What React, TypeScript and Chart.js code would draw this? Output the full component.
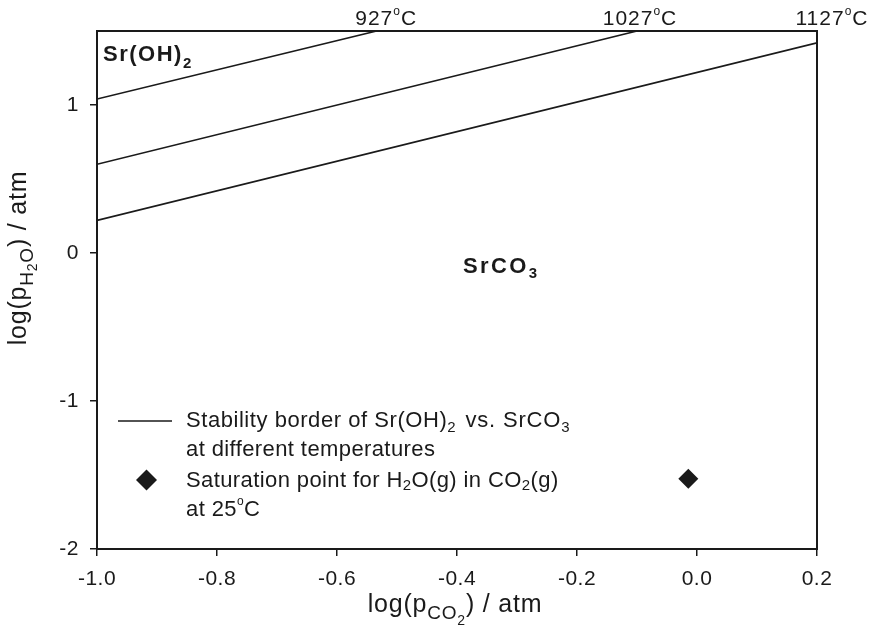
import React, { useEffect, useRef } from 'react';
import { Chart, registerables } from 'chart.js';

Chart.register(...registerables);

// ---- data ----
const X_TICKS = [-1.0, -0.8, -0.6, -0.4, -0.2, 0.0, 0.2];
const Y_TICKS = [-2, -1, 0, 1];
const X_MIN = -1.0;
const X_MAX = 0.2;
const Y_MIN = -2;
const Y_MAX = 1.5;

const BORDER_927 = [{ x: -1.0, y: 1.04 }, { x: -0.534, y: 1.5 }];
const BORDER_1027 = [{ x: -1.0, y: 0.6 }, { x: -0.1, y: 1.5 }];
const BORDER_1127 = [{ x: -1.0, y: 0.22 }, { x: 0.2, y: 1.42 }];
const SATURATION = [{ x: -0.0145, y: -1.525 }];

const TEMP_LABELS = ['927', '1027', '1127'];
const TEMP_LABEL_X = [-0.518, -0.095, 0.225];

const INK = '#1a1a1a';
const FONT = '"Liberation Sans", Arial, Helvetica, sans-serif';

type Seg = { t: string; s: number; dy?: number; b?: boolean; ls?: number };

function setFont(ctx: CanvasRenderingContext2D, g: Seg, ls: number) {
  ctx.font = `${g.b ? 'bold ' : ''}${g.s}px ${FONT}`;
  (ctx as any).letterSpacing = `${g.ls ?? ls}px`;
}

function richWidth(ctx: CanvasRenderingContext2D, segs: Seg[], ls: number) {
  let w = 0;
  for (const g of segs) {
    setFont(ctx, g, ls);
    w += ctx.measureText(g.t).width;
  }
  return w;
}

function drawRich(
  ctx: CanvasRenderingContext2D,
  segs: Seg[],
  x: number,
  y: number,
  opts: { align?: 'left' | 'center'; ls?: number; rot?: number } = {}
) {
  const ls = opts.ls ?? 0.4;
  ctx.save();
  ctx.translate(x, y);
  if (opts.rot) ctx.rotate(opts.rot);
  let cx = 0;
  if (opts.align === 'center') cx = -richWidth(ctx, segs, ls) / 2;
  ctx.textAlign = 'left';
  ctx.textBaseline = 'alphabetic';
  ctx.fillStyle = INK;
  for (const g of segs) {
    setFont(ctx, g, ls);
    ctx.fillText(g.t, cx, g.dy || 0);
    cx += ctx.measureText(g.t).width;
  }
  ctx.restore();
}

const decorPlugin = {
  id: 'decor',
  beforeDraw(chart: any) {
    (chart.ctx as any).letterSpacing = '0.5px';
  },
  afterDraw(chart: any) {
    const ctx: CanvasRenderingContext2D = chart.ctx;
    const { left, right, top, bottom } = chart.chartArea;
    const xs = chart.scales.x;

    // frame
    ctx.save();
    ctx.strokeStyle = INK;
    ctx.lineWidth = 2;
    ctx.strokeRect(left, top, right - left, bottom - top);
    ctx.restore();

    // temperature labels
    TEMP_LABELS.forEach((t, i) => {
      drawRich(
        ctx,
        [
          { t, s: 21 },
          { t: 'o', s: 12, dy: -10 },
          { t: 'C', s: 21 },
        ],
        xs.getPixelForValue(TEMP_LABEL_X[i]),
        25,
        { align: 'center', ls: 1 }
      );
    });

    // region labels
    drawRich(
      ctx,
      [
        { t: 'Sr(OH)', s: 22, b: true },
        { t: '2', s: 15, b: true, dy: 7 },
      ],
      left + 6,
      top + 30,
      { ls: 1.5 }
    );
    drawRich(
      ctx,
      [
        { t: 'SrCO', s: 22, b: true },
        { t: '3', s: 15, b: true, dy: 5 },
      ],
      463,
      273,
      { ls: 2.4 }
    );

    // legend
    ctx.save();
    ctx.strokeStyle = INK;
    ctx.lineWidth = 1.5;
    ctx.beginPath();
    ctx.moveTo(118, 421);
    ctx.lineTo(172, 421);
    ctx.stroke();
    ctx.fillStyle = INK;
    ctx.beginPath();
    const dx = 146.5, dyc = 480, r = 10.5;
    ctx.moveTo(dx - r, dyc);
    ctx.lineTo(dx, dyc - r);
    ctx.lineTo(dx + r, dyc);
    ctx.lineTo(dx, dyc + r);
    ctx.closePath();
    ctx.fill();
    ctx.restore();

    const lx = 186;
    drawRich(
      ctx,
      [
        { t: 'Stability border of Sr(OH)', s: 22, ls: 0.55 },
        { t: '2', s: 15, dy: 5, ls: 3 },
        { t: ' vs. SrCO', s: 22, ls: 0.8 },
        { t: '3', s: 15, dy: 5 },
      ],
      lx,
      427
    );
    drawRich(ctx, [{ t: 'at different temperatures', s: 22 }], lx, 456);
    drawRich(
      ctx,
      [
        { t: 'Saturation point for H', s: 22 },
        { t: '2', s: 15, dy: 3 },
        { t: 'O(g) in CO', s: 22 },
        { t: '2', s: 15, dy: 3 },
        { t: '(g)', s: 22 },
      ],
      lx,
      487
    );
    drawRich(
      ctx,
      [
        { t: 'at 25', s: 22 },
        { t: 'o', s: 12, dy: -11 },
        { t: 'C', s: 22 },
      ],
      lx,
      516
    );

    // axis titles
    drawRich(
      ctx,
      [
        { t: 'log(p', s: 25 },
        { t: 'CO', s: 19, dy: 7 },
        { t: '2', s: 14, dy: 13 },
        { t: ') / atm', s: 25 },
      ],
      455,
      612,
      { align: 'center', ls: 0.8 }
    );
    drawRich(
      ctx,
      [
        { t: 'log(p', s: 25 },
        { t: 'H', s: 19, dy: 7 },
        { t: '2', s: 14, dy: 11 },
        { t: 'O', s: 19, dy: 7 },
        { t: ') / atm', s: 25 },
      ],
      26,
      258,
      { align: 'center', ls: 0.8, rot: -Math.PI / 2 }
    );
  },
};

export default function App() {
  const ref = useRef<HTMLCanvasElement | null>(null);

  useEffect(() => {
    if (!ref.current) return;
    const lineDs = (data: { x: number; y: number }[]) => ({
      type: 'scatter' as const,
      data,
      showLine: true,
      borderColor: INK,
      borderWidth: 1.6,
      pointRadius: 0,
      fill: false,
    });
    const chart = new Chart(ref.current, {
      type: 'scatter',
      data: {
        datasets: [
          lineDs(BORDER_927),
          lineDs(BORDER_1027),
          lineDs(BORDER_1127),
          {
            type: 'scatter',
            data: SATURATION,
            pointStyle: 'rectRot',
            pointRadius: 10,
            backgroundColor: INK,
            borderColor: INK,
            borderWidth: 0,
          } as any,
        ],
      },
      options: {
        animation: false,
        responsive: false,
        devicePixelRatio: 1,
        layout: { padding: { top: 31, right: 57, left: 0, bottom: 0 } },
        plugins: {
          legend: { display: false },
          tooltip: { enabled: false },
          title: { display: false },
        },
        scales: {
          x: {
            type: 'linear',
            min: X_MIN,
            max: X_MAX,
            afterBuildTicks: (s: any) => {
              s.ticks = X_TICKS.map((v) => ({ value: v }));
            },
            afterFit: (s: any) => {
              s.height = 82;
            },
            grid: {
              drawOnChartArea: false,
              drawTicks: true,
              tickLength: 7,
              color: INK,
              lineWidth: 1.5,
            },
            border: { display: true, color: INK, width: 2 },
            ticks: {
              padding: 11,
              color: INK,
              font: { family: FONT, size: 21 },
              maxRotation: 0,
              autoSkip: false,
              callback: (v: any) => Number(v).toFixed(1),
            },
          },
          y: {
            type: 'linear',
            min: Y_MIN,
            max: Y_MAX,
            afterBuildTicks: (s: any) => {
              s.ticks = Y_TICKS.map((v) => ({ value: v }));
            },
            afterFit: (s: any) => {
              s.width = 97;
            },
            grid: {
              drawOnChartArea: false,
              drawTicks: true,
              tickLength: 7,
              color: INK,
              lineWidth: 1.5,
            },
            border: { display: true, color: INK, width: 2 },
            ticks: {
              padding: 11,
              color: INK,
              font: { family: FONT, size: 21 },
              autoSkip: false,
              callback: (v: any) => String(v),
            },
          },
        },
      },
      plugins: [decorPlugin],
    });
    return () => chart.destroy();
  }, []);

  return (
    <div style={{ position: 'absolute', left: 0, top: 0, width: 874, height: 631, background: '#fff' }}>
      <canvas ref={ref} width={874} height={631} style={{ display: 'block', width: 874, height: 631 }} />
    </div>
  );
}
